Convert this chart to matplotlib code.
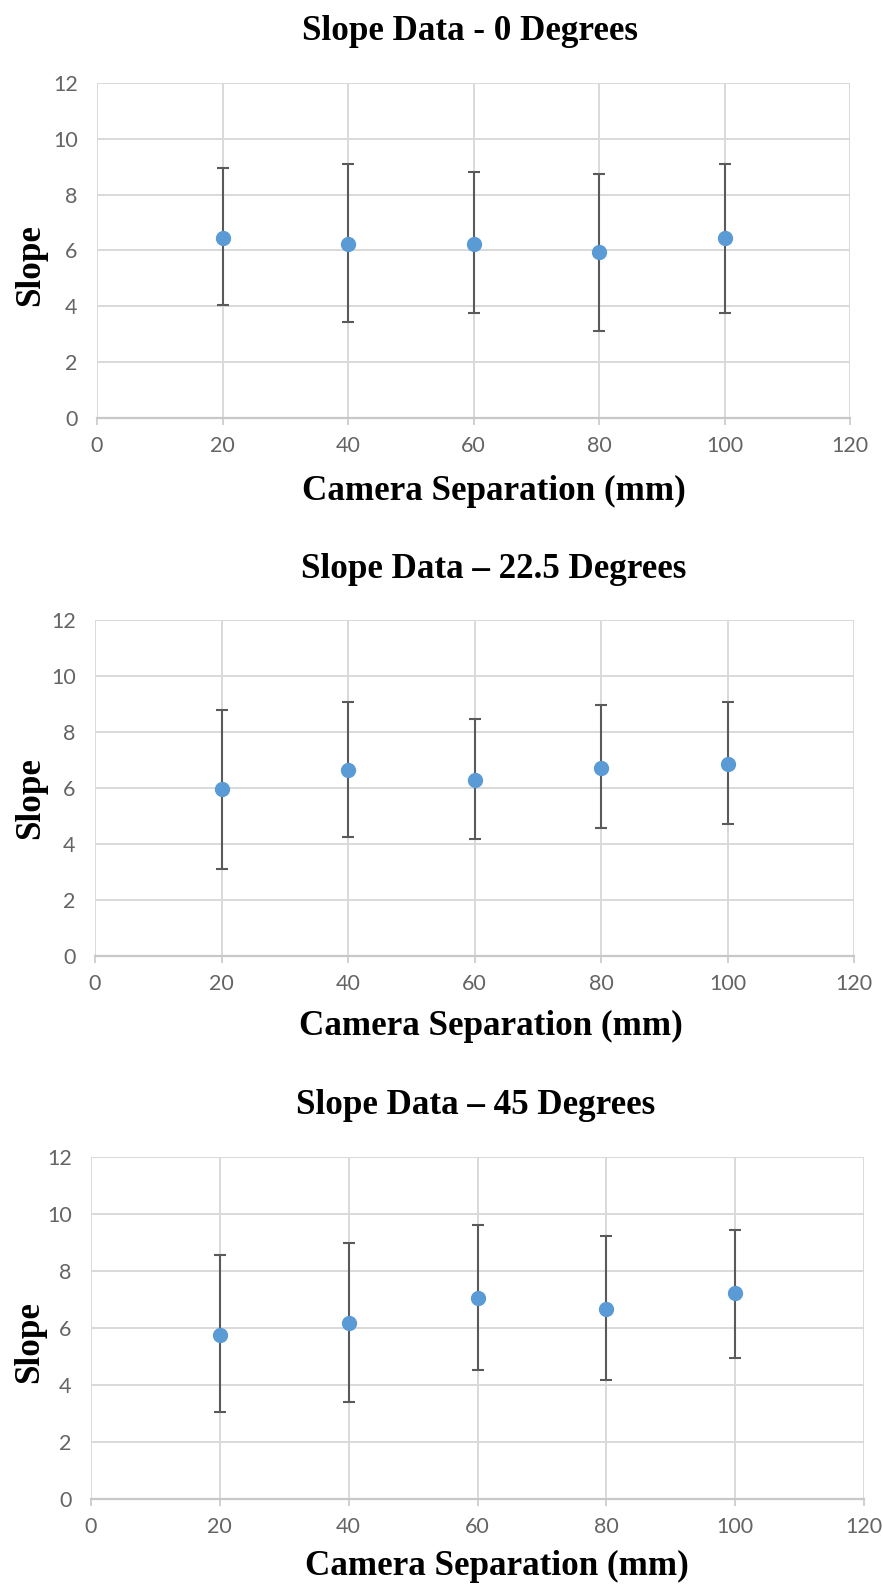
import matplotlib
matplotlib.use("Agg")
import matplotlib.pyplot as plt
import numpy as np

# Camera separation (mm) for every data set
separation = [20, 40, 60, 80, 100]

# Slope means and error-bar extents (lower / upper ends) for each angle
titles = ["Slope Data - 0 Degrees", "Slope Data \u2013 22.5 Degrees", "Slope Data \u2013 45 Degrees"]

slope_0 = [6.44, 6.23, 6.23, 5.95, 6.44]
low_0 = [4.03, 3.45, 3.75, 3.12, 3.75]
high_0 = [8.95, 9.10, 8.81, 8.75, 9.10]

slope_22 = [5.96, 6.64, 6.30, 6.71, 6.85]
low_22 = [3.12, 4.24, 4.17, 4.58, 4.71]
high_22 = [8.80, 9.07, 8.45, 8.95, 9.07]

slope_45 = [5.76, 6.18, 7.07, 6.65, 7.22]
low_45 = [3.07, 3.40, 4.51, 4.18, 4.93]
high_45 = [8.55, 8.97, 9.60, 9.24, 9.45]

x_ticks = [0, 20, 40, 60, 80, 100, 120]
y_ticks = [0, 2, 4, 6, 8, 10, 12]
x_label = "Camera Separation (mm)"
y_label = "Slope"

W, H = 883, 1590
fig = plt.figure(figsize=(W / 100, H / 100), dpi=100)
fig.patch.set_facecolor("white")

# panel boxes in pixels: left, right, top, bottom
boxes = [(97, 850, 83, 418), (95, 854, 620, 956), (91, 864, 1157, 1499)]
# text anchors in pixels
title_xy = [(470, 31), (494, 570), (476, 1106)]
xlabel_xy = [(494, 491), (491, 1026), (497, 1566)]
ylabel_xy = [(31, 265), (31, 798), (30, 1342)]

series = [(slope_0, low_0, high_0), (slope_22, low_22, high_22), (slope_45, low_45, high_45)]

serif = dict(family="Liberation Serif", weight="bold", size=25.2, color="black")
grid_c = "#d9d9d9"
tick_c = "#646464"

for i, ((l, r, t, b), (ys, lo, hi)) in enumerate(zip(boxes, series)):
    ax = fig.add_axes([l / W, 1 - b / H, (r - l) / W, (b - t) / H])
    ys = np.array(ys)
    yerr = np.vstack([ys - np.array(lo), np.array(hi) - ys])
    ax.errorbar(separation, ys, yerr=yerr, fmt="o", color="#5b9bd5", markersize=10,
                ecolor="#5a5a5a", elinewidth=1.5, capsize=4, capthick=1.5, zorder=3)
    ax.set_xlim(0, 120)
    ax.set_ylim(0, 12)
    ax.set_xticks(x_ticks)
    ax.set_yticks(y_ticks)
    ax.grid(True, color=grid_c, linewidth=1.4, zorder=0)
    ax.set_axisbelow(True)
    for s in ["top", "right", "left"]:
        ax.spines[s].set_visible(False)
    ax.spines["bottom"].set_color("#c8c8c8")
    ax.spines["bottom"].set_linewidth(1.6)
    ax.tick_params(axis="x", length=5, width=1.2, color="#c8c8c8", pad=8,
                   labelsize=15.5, labelcolor=tick_c)
    ax.tick_params(axis="y", length=0, pad=14, labelsize=15.5, labelcolor=tick_c)
    for lab in ax.get_xticklabels() + ax.get_yticklabels():
        lab.set_family("Lato")

    tx, ty = title_xy[i]
    fig.text(tx / W, 1 - ty / H, titles[i], ha="center", va="center", **serif)
    lx, ly = xlabel_xy[i]
    fig.text(lx / W, 1 - ly / H, x_label, ha="center", va="center", **serif)
    yx, yy = ylabel_xy[i]
    fig.text(yx / W, 1 - yy / H, y_label, ha="center", va="center", rotation=90, **serif)

fig.savefig("out.png", dpi=100, facecolor="white")
